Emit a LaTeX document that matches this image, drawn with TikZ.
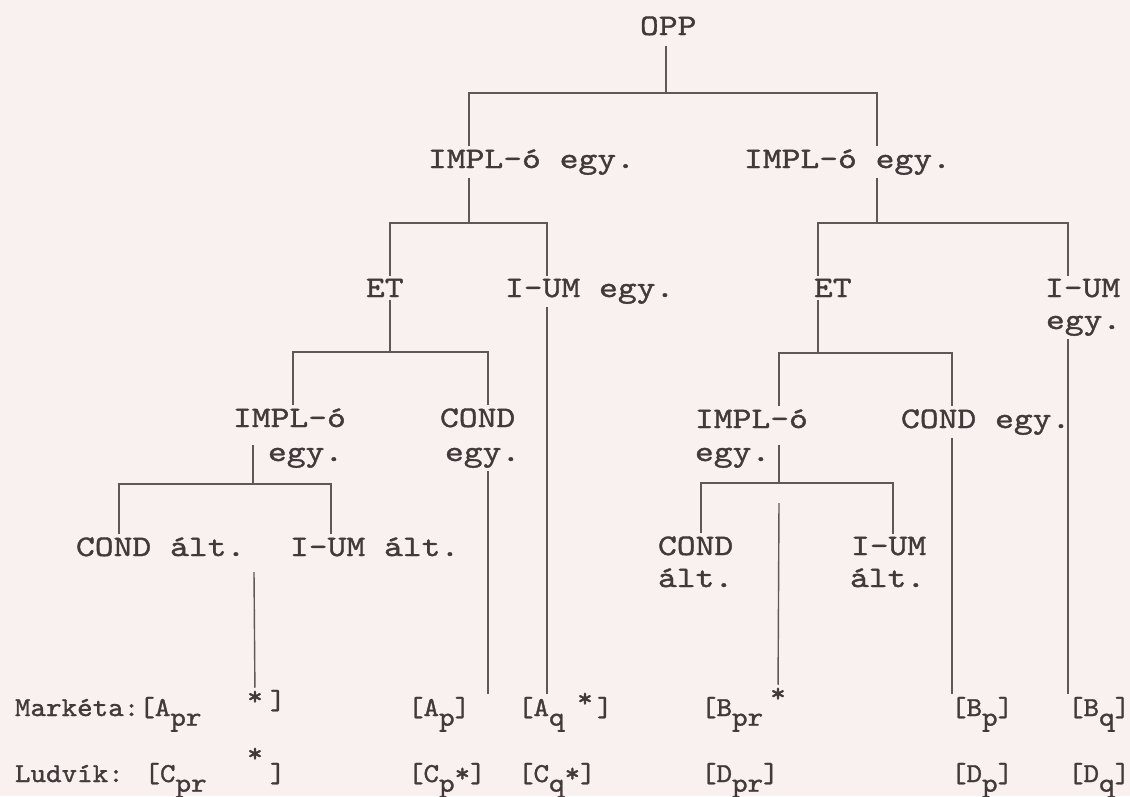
\documentclass[tikz,border=0pt]{standalone}
\usepackage{fontspec}
\newfontfamily\treefont[FakeStretch=1.2, FakeBold=1.2]{lmmono10-regular.otf}
\newfontfamily\rowfont[FakeStretch=1.08, FakeBold=1.2]{lmmono10-regular.otf}
\newcommand\lowsub[1]{\raisebox{-5.5pt}{#1}}
\definecolor{paper}{RGB}{249,240,240}
\definecolor{ink}{RGB}{66,58,58}
\definecolor{wire}{RGB}{96,88,88}
\tikzset{
  lbl/.style={font=\fontsize{17}{19}\treefont, text=ink, inner sep=1.5pt, anchor=base west},
  row/.style={font=\fontsize{15.6}{17}\rowfont, text=ink, inner sep=1.5pt, anchor=base west},
  link/.style={draw=wire, line width=0.8pt}
}

\begin{document}
\begin{tikzpicture}[x=0.02cm, y=-0.02cm]
\fill [paper] (0,0) rectangle (1130,796);
\useasboundingbox (0,0) rectangle (1130,796);
\node (opp) at (637,35) [lbl] {OPP};
\node (implA) at (425,168) [lbl] {IMPL-ó egy.};
\node (implB) at (741,168) [lbl] {IMPL-ó egy.};
\node (etA) at (363,297) [lbl] {ET};
\node (iumA) at (502,297) [lbl] {I-UM egy.};
\node (etB) at (811,297) [lbl] {ET};
\node (iumB) at (1042,297) [lbl] {I-UM};
\node (iumBb) at (1043,329) [lbl] {egy.};
\node (implC) at (230,427) [lbl] {IMPL-ó};
\node (implCb) at (265,461) [lbl] {egy.};
\node (condA) at (437,427) [lbl] {COND};
\node (condAb) at (442,461) [lbl] {egy.};
\node (implD) at (692,428) [lbl] {IMPL-ó};
\node (implDb) at (692,461) [lbl] {egy.};
\node (condB) at (898,428) [lbl] {COND egy.};
\node (condC) at (73,556) [lbl] {COND ált.};
\node (iumC) at (287,556) [lbl] {I-UM ált.};
\node (condD) at (655,555) [lbl] {COND};
\node (condDb) at (655,587) [lbl] {ált.};
\node (iumD) at (848,555) [lbl] {I-UM};
\node (iumDb) at (847,587) [lbl] {ált.};
\node (mA) at (12,716) [row] {Markéta:[A\lowsub{pr}};
\node (sA) at (255,705) [row, anchor=base] {*};
\node (kA) at (267,709) [row] {]};
\node (ap) at (405,716) [row] {[A\lowsub{p}]};
\node (aq) at (515,716) [row] {[A\lowsub{q}};
\node (sAq) at (585,707) [row, anchor=base] {*};
\node (kAq) at (594,716) [row] {]};
\node (bpr) at (698,716) [row] {[B\lowsub{pr}};
\node (sB) at (778,702) [row, anchor=base] {*};
\node (bp) at (948,716) [row] {[B\lowsub{p}]};
\node (bq) at (1065,716) [row] {[B\lowsub{q}]};
\node (lC) at (12,782) [row] {Ludvík: [C\lowsub{pr}};
\node (sC) at (255,762) [row, anchor=base] {*};
\node (kC) at (267,782) [row] {]};
\node (cp) at (405,782) [row] {[C\lowsub{p}*]};
\node (cq) at (515,782) [row] {[C\lowsub{q}*]};
\node (dpr) at (698,782) [row] {[D\lowsub{pr}]};
\node (dp) at (948,782) [row] {[D\lowsub{p}]};
\node (dq) at (1065,782) [row] {[D\lowsub{q}]};
\coordinate (j1) at (666,93);
\coordinate (j2) at (469,223);
\coordinate (j3) at (877,223);
\coordinate (j4) at (390,352);
\coordinate (j5) at (818,353);
\coordinate (j6) at (253,484);
\coordinate (j7) at (779,483);
\coordinate (u1) at (547,223);
\coordinate (u2) at (1068,223);
\coordinate (u3) at (293,352);
\coordinate (u4) at (488,352);
\coordinate (u5) at (952,353);
\coordinate (u6) at (119,484);
\coordinate (u7) at (331,484);
\coordinate (u8) at (701,483);
\coordinate (u9) at (893,483);
\coordinate (t1) at (254,572);
\coordinate (t2) at (779,503);
\draw [link] ([yshift=-0.15cm]opp.south -| j1) -- (j1);
\draw [link] (j2 |- implA.north) |- (j1) -| (j3 |- implB.north);
\draw [link] (implA.south -| j2) -- (j2);
\draw [link] (implB.south -| j3) -- (j3);
\draw [link] (j4 |- etA.north) |- (u1) -- (u1 |- iumA.north);
\draw [link] (j5 |- etB.north) |- (u2) -- (u2 |- iumB.north);
\draw [link] (etA.south -| j4) -- (j4);
\draw [link] (etB.south -| j5) -- (j5);
\draw [link] (u3 |- implC.north) |- (u4) -- (u4 |- condA.north);
\draw [link] (j7 |- implD.north) |- (u5) -- (u5 |- condB.north);
\draw [link] (implCb.north -| j6) -- (j6);
\draw [link] (implDb.north -| j7) -- (j7);
\draw [link] (u6 |- condC.north) |- (u7) -- (u7 |- iumC.north);
\draw [link] (u8 |- condD.north) |- (u9) -- (u9 |- iumD.north);
\draw [link] (t1) -- (sA);
\draw [link] (t2) -- (sB);
\draw [link] (condAb.south -| u4) -- (u4 |- ap.north);
\draw [link] (iumA.south -| u1) -- (u1 |- aq.north);
\draw [link] (condB.south -| u5) -- (u5 |- bp.north);
\draw [link] (iumBb.south -| u2) -- (u2 |- bq.north);
\end{tikzpicture}
\end{document}
